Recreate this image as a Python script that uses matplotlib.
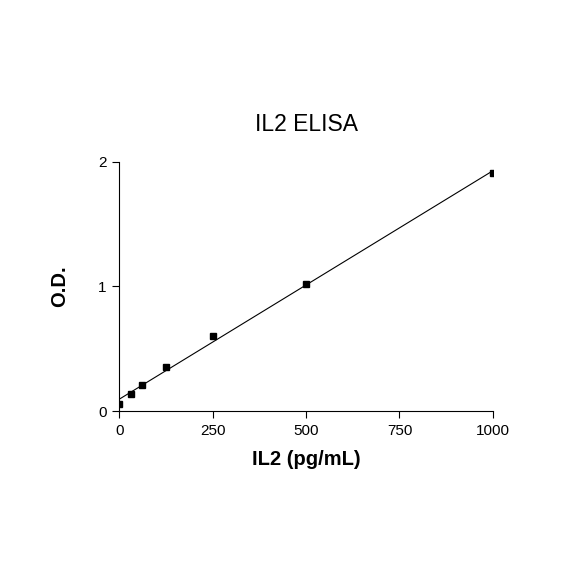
import numpy as np
import matplotlib
matplotlib.use("Agg")
import matplotlib.pyplot as plt

plt.rcParams['font.family'] = ['Liberation Sans', 'DejaVu Sans']

# IL2 standard curve
conc = [0, 31.25, 62.5, 125, 250, 500, 1000]
od = [0.054, 0.134, 0.206, 0.351, 0.600, 1.019, 1.910]
xticks = [0, 250, 500, 750, 1000]
yticks = [0, 1, 2]

fig = plt.figure(figsize=(5.84, 5.84), dpi=100)
ax = fig.add_axes([0.204, 0.296, 0.640, 0.427])

# linear fit
slope, icpt = np.polyfit(conc, od, 1)
xf = np.array([0, 1000])
ax.plot(xf, slope * xf + icpt, color='black', lw=0.8)
ax.plot(conc, od, 's', color='black', ms=4)

ax.set_xlim(0, 1000)
ax.set_ylim(0, 2)
ax.set_xticks(xticks)
ax.set_yticks(yticks)
ax.spines['top'].set_visible(False)
ax.spines['right'].set_visible(False)
ax.tick_params(direction='out', length=5, labelsize=11, width=0.8, pad=4)
for s in ['left', 'bottom']:
    ax.spines[s].set_linewidth(0.8)
    ax.spines[s].set_clip_on(False)

ax.set_title('IL2 ELISA', fontsize=16.5, pad=22)
ax.set_xlabel('IL2 (pg/mL)', fontsize=14.5, fontweight='bold', labelpad=9)
ax.set_ylabel('O.D.', fontsize=14.5, fontweight='bold', labelpad=21)

fig.savefig('out.png', dpi=100)
